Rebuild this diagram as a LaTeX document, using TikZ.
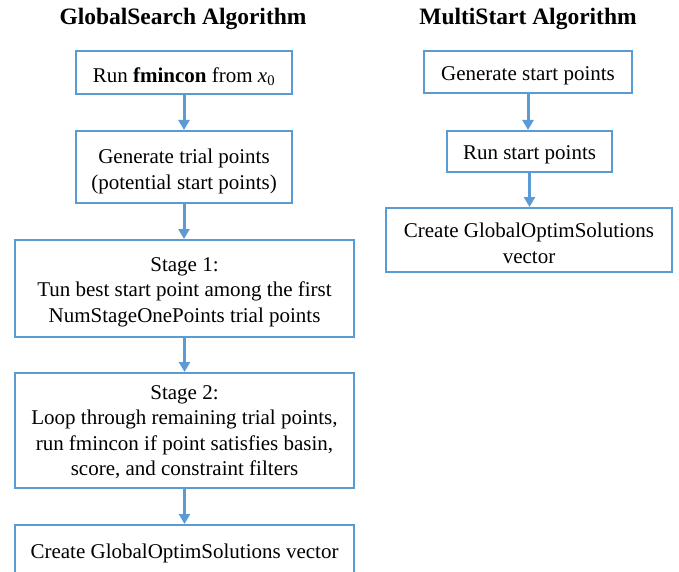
\documentclass[tikz,border=0pt]{standalone}
\usepackage{fontspec}
\setmainfont{Liberation Serif}
\usetikzlibrary{arrows.meta}
\definecolor{boxblue}{HTML}{5B9BD5}
\begin{document}
\begin{tikzpicture}[x=1pt,y=-1pt,
  box/.style={draw=boxblue,line width=2pt,inner sep=0pt},
  boxtext/.style={align=center,inner sep=0pt,yshift=-3.5pt,font=\fontsize{21}{25.5}\selectfont},
  title/.style={font=\fontsize{23.5}{26}\selectfont\bfseries},
  flow/.style={draw=boxblue,line width=3pt,-{Triangle[width=11pt,length=10pt]}}]
\useasboundingbox (0,0) rectangle (679,572);
\node[title] (t1) at (183,19) {GlobalSearch Algorithm};
\node[title] (t2) at (528,19) {MultiStart Algorithm};
\node[box,minimum width=216,minimum height=43,
  label={[boxtext,yshift=-1pt]center:{Run \textbf{fmincon} from \textit{x}\textsubscript{0}}}] (a1) at (184,72.5) {};
\node[box,minimum width=216,minimum height=72,
  label={[boxtext,yshift=-1pt]center:{Generate trial points\\(potential start points)}}] (a2) at (184,167) {};
\node[box,minimum width=339,minimum height=97,
  label={[boxtext]center:{Stage 1:\\Tun best start point among the first\\NumStageOnePoints trial points}}] (a3) at (184.5,288.5) {};
\node[box,minimum width=339,minimum height=115,
  label={[boxtext,yshift=2pt]center:{Stage 2:\\Loop through remaining trial points,\\run fmincon if point satisfies basin,\\score, and constraint filters}}] (a4) at (184.5,430.5) {};
\node[box,minimum width=339,minimum height=50,
  label={[boxtext]center:{Create GlobalOptimSolutions vector}}] (a5) at (184.5,550) {};
\node[box,minimum width=208,minimum height=42,
  label={[boxtext]center:{Generate start points}}] (b1) at (528,72) {};
\node[box,minimum width=165,minimum height=41,
  label={[boxtext]center:{Run start points}}] (b2) at (529.5,151.5) {};
\node[box,minimum width=286,minimum height=64,
  label={[boxtext]center:{Create GlobalOptimSolutions\\vector}}] (b3) at (529,240) {};
\draw[flow] (a1.south) -- (a1.south |- a2.north);
\draw[flow] (a2.south) -- (a2.south |- a3.north);
\draw[flow] (a3.south) -- (a3.south |- a4.north);
\draw[flow] (a4.south) -- (a4.south |- a5.north);
\draw[flow] (b1.south) -- (b1.south |- b2.north);
\draw[flow] (b2.south) -- (b2.south |- b3.north);
\end{tikzpicture}
\end{document}
